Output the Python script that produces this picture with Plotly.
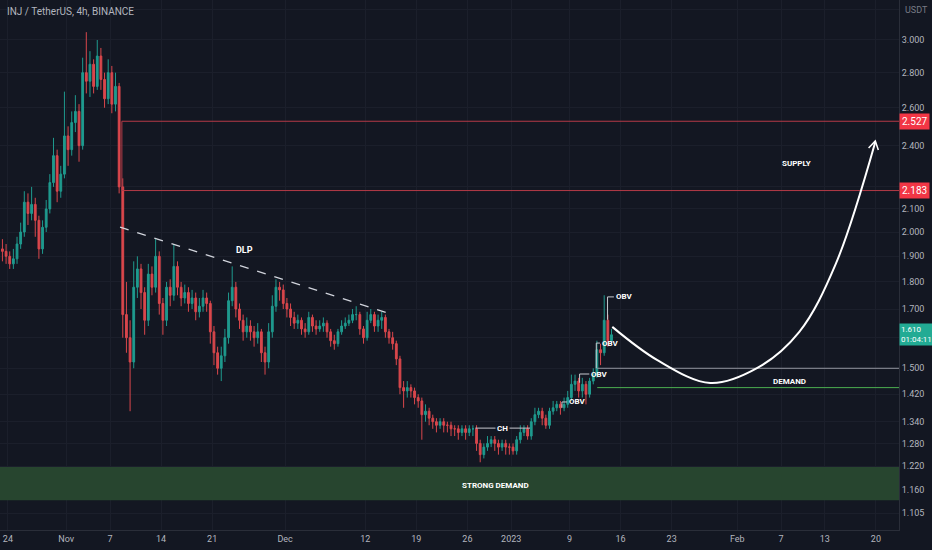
import numpy as np
import pandas as pd
import plotly.graph_objects as go

SYMBOL = "INJ / TetherUS, 4h, BINANCE"
FONT = "Liberation Sans Narrow, Roboto, sans-serif"

# 12h candles, first one starts 23 Oct 2022
FIRST_OPEN = 1.93
CLOSE = [
    1.92, 1.90, 1.87, 1.89, 1.95, 2.00, 2.13, 2.08, 2.12, 2.05,
    1.93, 2.02, 2.10, 2.22, 2.35, 2.18, 2.26, 2.45, 2.38, 2.52,
    2.58, 2.40, 2.80, 2.75, 2.85, 2.72, 2.90, 2.76, 2.65, 2.80,
    2.62, 2.72, 2.20, 1.68, 1.60, 1.52, 1.78, 1.85, 1.76, 1.66,
    1.83, 1.78, 1.90, 1.72, 1.66, 1.78, 1.75, 1.86, 1.78, 1.74,
    1.76, 1.72, 1.74, 1.69, 1.71, 1.74, 1.72, 1.62, 1.55, 1.50,
    1.54, 1.60, 1.73, 1.78, 1.70, 1.66, 1.62, 1.64, 1.62, 1.60,
    1.62, 1.55, 1.52, 1.62, 1.71, 1.78, 1.77, 1.72, 1.70, 1.67,
    1.65, 1.66, 1.63, 1.62, 1.67, 1.64, 1.63, 1.64, 1.65, 1.62,
    1.59, 1.58, 1.62, 1.64, 1.65, 1.66, 1.68, 1.68, 1.63, 1.60,
    1.66, 1.68, 1.64, 1.66, 1.67, 1.62, 1.60, 1.58, 1.53, 1.44,
    1.43, 1.44, 1.43, 1.41, 1.40, 1.36, 1.37, 1.35, 1.34, 1.33,
    1.34, 1.33, 1.33, 1.32, 1.32, 1.31, 1.32, 1.31, 1.32, 1.32,
    1.28, 1.25, 1.27, 1.28, 1.29, 1.28, 1.27, 1.28, 1.27, 1.27,
    1.26, 1.29, 1.31, 1.32, 1.30, 1.34, 1.36, 1.37, 1.35, 1.33,
    1.37, 1.38, 1.39, 1.38, 1.39, 1.41, 1.45, 1.46, 1.43, 1.45,
    1.42, 1.46, 1.48, 1.56, 1.55, 1.66, 1.59, 1.61,
]
HIGH = [
    1.97, 1.95, 1.92, 1.93, 1.98, 2.04, 2.18, 2.17, 2.20, 2.15,
    2.07, 2.05, 2.14, 2.26, 2.44, 2.38, 2.30, 2.69, 2.50, 2.58,
    2.67, 2.62, 2.89, 3.05, 2.93, 2.88, 3.00, 2.95, 2.80, 2.88,
    2.84, 2.80, 2.74, 2.24, 1.80, 1.66, 1.88, 1.90, 1.87, 1.78,
    1.87, 1.86, 1.97, 1.92, 1.74, 1.80, 1.81, 1.95, 1.88, 1.80,
    1.79, 1.78, 1.77, 1.76, 1.74, 1.77, 1.76, 1.73, 1.64, 1.57,
    1.57, 1.63, 1.76, 1.86, 1.80, 1.72, 1.68, 1.67, 1.66, 1.64,
    1.65, 1.63, 1.57, 1.65, 1.75, 1.81, 1.80, 1.79, 1.74, 1.72,
    1.69, 1.68, 1.67, 1.65, 1.69, 1.68, 1.66, 1.66, 1.67, 1.66,
    1.63, 1.61, 1.63, 1.66, 1.67, 1.68, 1.70, 1.71, 1.69, 1.64,
    1.69, 1.70, 1.69, 1.68, 1.69, 1.68, 1.63, 1.62, 1.59, 1.54,
    1.46, 1.46, 1.45, 1.44, 1.42, 1.41, 1.39, 1.38, 1.36, 1.35,
    1.35, 1.35, 1.34, 1.34, 1.33, 1.33, 1.33, 1.33, 1.33, 1.33,
    1.33, 1.29, 1.28, 1.30, 1.30, 1.30, 1.29, 1.29, 1.29, 1.28,
    1.28, 1.30, 1.33, 1.33, 1.33, 1.35, 1.38, 1.38, 1.38, 1.36,
    1.38, 1.40, 1.40, 1.40, 1.41, 1.43, 1.48, 1.48, 1.47, 1.47,
    1.46, 1.47, 1.50, 1.59, 1.58, 1.75, 1.68, 1.63,
]
LOW = [
    1.88, 1.87, 1.85, 1.85, 1.87, 1.93, 1.98, 2.03, 2.05, 1.98,
    1.89, 1.91, 2.00, 2.08, 2.20, 2.13, 2.15, 2.24, 2.30, 2.35,
    2.47, 2.32, 2.38, 2.68, 2.66, 2.68, 2.70, 2.70, 2.60, 2.62,
    2.57, 2.58, 2.17, 1.60, 1.55, 1.37, 1.50, 1.74, 1.70, 1.61,
    1.64, 1.75, 1.76, 1.68, 1.61, 1.64, 1.71, 1.73, 1.75, 1.71,
    1.72, 1.69, 1.70, 1.66, 1.67, 1.69, 1.69, 1.58, 1.51, 1.48,
    1.46, 1.52, 1.58, 1.71, 1.67, 1.63, 1.59, 1.60, 1.59, 1.57,
    1.58, 1.52, 1.48, 1.50, 1.60, 1.69, 1.73, 1.70, 1.67, 1.64,
    1.63, 1.63, 1.61, 1.60, 1.61, 1.62, 1.61, 1.62, 1.62, 1.60,
    1.57, 1.56, 1.57, 1.61, 1.63, 1.64, 1.65, 1.66, 1.61, 1.58,
    1.59, 1.65, 1.62, 1.62, 1.63, 1.60, 1.58, 1.56, 1.51, 1.42,
    1.38, 1.41, 1.41, 1.39, 1.38, 1.29, 1.34, 1.33, 1.32, 1.31,
    1.32, 1.31, 1.31, 1.30, 1.30, 1.29, 1.30, 1.29, 1.30, 1.30,
    1.26, 1.23, 1.24, 1.26, 1.27, 1.26, 1.25, 1.26, 1.25, 1.25,
    1.25, 1.25, 1.28, 1.30, 1.29, 1.29, 1.33, 1.35, 1.33, 1.32,
    1.32, 1.36, 1.37, 1.36, 1.37, 1.38, 1.40, 1.43, 1.41, 1.41,
    1.39, 1.41, 1.45, 1.47, 1.51, 1.54, 1.57, 1.58,
]

# levels and drawings
SUPPLY_START = "2022-11-08 15:00"
SUPPLY_LEVELS = [2.527, 2.183]
DEMAND_START = "2023-01-12 19:00"
DEMAND_LEVELS = [1.50, 1.44]
STRONG_DEMAND = [1.135, 1.218]
LAST_PRICE = 1.610
COUNTDOWN = "01:04:11"

DLP_X = ["2022-11-08 09:00", "2022-12-15 00:00"]
DLP_Y = [2.021, 1.686]

CH_X = ["2022-12-27 02:00", "2023-01-03 14:00"]
CH_Y = [1.322, 1.322]

OBV_MARKS = [
    # (line x, line y, label x, label y)
    (["2023-01-07 23:00", "2023-01-07 23:00", "2023-01-08 16:00"], [1.38, 1.397, 1.397],
     "2023-01-08 16:00", 1.397),
    (["2023-01-10 09:00", "2023-01-10 09:00", "2023-01-11 17:00"], [1.455, 1.482, 1.482],
     "2023-01-11 17:00", 1.482),
    (["2023-01-12 16:00", "2023-01-12 16:00", "2023-01-13 04:00"], [1.50, 1.582, 1.582],
     "2023-01-13 04:00", 1.582),
    (["2023-01-14 05:00", "2023-01-14 05:00", "2023-01-15 02:00"], [1.662, 1.744, 1.744],
     "2023-01-15 02:00", 1.744),
]

PATH_X = ["2023-01-14 20:40", "2023-01-21 01:00", "2023-01-28 07:00",
          "2023-02-03 18:00", "2023-02-09 12:00", "2023-02-14 12:00",
          "2023-02-19 22:00"]
PATH_Y = [1.637, 1.526, 1.454, 1.501, 1.62, 1.87, 2.419]
ARROW_X = ["2023-02-19 00:00", "2023-02-19 22:00", "2023-02-20 08:00"]
ARROW_Y = [2.388, 2.424, 2.378]

# 2.2 and 1.6 sit under the price labels, so only their grid lines show
Y_TICKS = [3.2, 3.0, 2.8, 2.6, 2.4, 2.2, 2.1, 2.0, 1.9, 1.8, 1.7, 1.6, 1.5,
           1.42, 1.34, 1.28, 1.22, 1.16, 1.105]
Y_TEXT = ["", "3.000", "2.800", "2.600", "2.400", "", "2.100", "2.000", "1.900",
          "1.800", "1.700", "", "1.500", "1.420", "1.340", "1.280", "1.220",
          "1.160", "1.105"]
X_TICKS = ["2022-10-24", "2022-11-01", "2022-11-07", "2022-11-14", "2022-11-21",
           "2022-12-01", "2022-12-12", "2022-12-19", "2022-12-26", "2023-01-01",
           "2023-01-09", "2023-01-16", "2023-01-23", "2023-02-01", "2023-02-07",
           "2023-02-13", "2023-02-20"]
X_TEXT = ["24", "Nov", "7", "14", "21", "Dec", "12", "19", "26", "2023",
          "9", "16", "23", "Feb", "7", "13", "20"]

X_RANGE = ["2022-10-22 22:00", "2023-02-23 04:00"]
Y_RANGE = [1.0661, 3.2643]

BG = "#131722"
GRID = "#1b1f2b"
TEXT = "#b2b5be"
UP = "#1f9a8e"
DOWN = "#d9474c"
RED_LINE = "#b43a47"


def white_line(fig, x, y, dash=None, width=1, color="#d1d4dc"):
    fig.add_trace(go.Scatter(x=x, y=y, mode="lines", hoverinfo="skip",
                             line=dict(color=color, width=width, dash=dash)))


def label(fig, x, y, text, xanchor="center", size=9, bg=None):
    fig.add_annotation(x=x, y=np.log10(y), text=f"<b>{text}</b>", showarrow=False,
                       xanchor=xanchor, yanchor="middle", bgcolor=bg, borderpad=1,
                       font=dict(family=FONT, size=size, color="#ffffff"))


times = pd.date_range("2022-10-23 06:00", periods=len(CLOSE), freq="12h")
opens = [FIRST_OPEN] + CLOSE[:-1]

fig = go.Figure()

# strong demand zone
fig.add_trace(go.Scatter(
    x=[X_RANGE[0], X_RANGE[1], X_RANGE[1], X_RANGE[0], X_RANGE[0]],
    y=[STRONG_DEMAND[0], STRONG_DEMAND[0], STRONG_DEMAND[1], STRONG_DEMAND[1], STRONG_DEMAND[0]],
    fill="toself", fillcolor="#27452f", mode="lines", line=dict(width=0),
    hoverinfo="skip"))

fig.add_trace(go.Candlestick(
    x=times, open=opens, high=HIGH, low=LOW, close=CLOSE,
    increasing=dict(line=dict(color=UP, width=1), fillcolor=UP),
    decreasing=dict(line=dict(color=DOWN, width=1), fillcolor=DOWN),
    whiskerwidth=0, hoverinfo="skip"))

# supply box
fig.add_trace(go.Scatter(
    x=[X_RANGE[1], SUPPLY_START, SUPPLY_START, X_RANGE[1]],
    y=[SUPPLY_LEVELS[0], SUPPLY_LEVELS[0], SUPPLY_LEVELS[1], SUPPLY_LEVELS[1]],
    mode="lines", line=dict(color=RED_LINE, width=1), hoverinfo="skip"))

# demand lines
white_line(fig, [DEMAND_START, X_RANGE[1]], [DEMAND_LEVELS[0]] * 2, color="#9598a1")
white_line(fig, [DEMAND_START, X_RANGE[1]], [DEMAND_LEVELS[1]] * 2, color="#4caf50")

white_line(fig, DLP_X, DLP_Y, dash="dash", width=1.3)
white_line(fig, CH_X, CH_Y, color="#c8cad0")
for lx, ly, tx, ty in OBV_MARKS:
    white_line(fig, lx, ly, color="#c8cad0")
    label(fig, tx, ty, "OBV", xanchor="left", size=8)

white_line(fig, PATH_X, PATH_Y, width=2, color="#ffffff")
fig.data[-1].line.shape = "spline"
fig.data[-1].line.smoothing = 1.0
white_line(fig, ARROW_X, ARROW_Y, width=1.5, color="#ffffff")

label(fig, "2022-11-25 12:00", 1.925, "DLP")
label(fig, "2022-12-30 20:00", CH_Y[0], "CH", size=8, bg=BG)
label(fig, "2023-02-09 02:00", 2.309, "SUPPLY", size=8)
label(fig, "2023-02-08 03:00", 1.460, "DEMAND", size=8)
label(fig, "2022-12-29 19:00", 1.170, "STRONG DEMAND", size=8)

# price labels on the axis
for lvl in SUPPLY_LEVELS:
    fig.add_annotation(xref="paper", x=1.0, xanchor="left", y=np.log10(lvl),
                       text=f"{lvl:.3f}", showarrow=False, bgcolor="#f23645",
                       borderpad=2, font=dict(family=FONT, size=10, color="#ffffff"))
fig.add_annotation(xref="paper", x=1.0, xanchor="left", y=np.log10(LAST_PRICE),
                   text=f"{LAST_PRICE:.3f}<br>{COUNTDOWN}", showarrow=False,
                   bgcolor="#22ab94", borderpad=1, align="left",
                   font=dict(family=FONT, size=8, color="#ffffff"))

fig.add_annotation(xref="paper", yref="paper", x=0.006, y=0.992, xanchor="left",
                   yanchor="top", text=SYMBOL, showarrow=False,
                   font=dict(family=FONT, size=10, color=TEXT))
fig.add_annotation(xref="paper", yref="paper", x=1.004, y=0.995, xanchor="left",
                   yanchor="top", text="USDT", showarrow=False,
                   font=dict(family=FONT, size=9, color="#787b86"))

fig.update_layout(
    width=932, height=550,
    margin=dict(l=0, r=33, t=0, b=20),
    paper_bgcolor=BG, plot_bgcolor=BG,
    showlegend=False,
    font=dict(family=FONT, size=9, color=TEXT),
    xaxis=dict(type="date", range=X_RANGE, rangeslider=dict(visible=False),
               tickvals=X_TICKS, ticktext=X_TEXT, showgrid=True, gridcolor=GRID,
               showline=True, linecolor="#2a2e39", zeroline=False,
               tickfont=dict(size=9, color=TEXT)),
    yaxis=dict(type="log", range=[np.log10(Y_RANGE[0]), np.log10(Y_RANGE[1])],
               side="right", tickvals=Y_TICKS, ticktext=Y_TEXT, showgrid=True,
               gridcolor=GRID, showline=True, linecolor="#2a2e39", zeroline=False,
               tickfont=dict(size=9, color=TEXT)),
)

fig.write_html("out.html", config={"displayModeBar": False},
               post_script="document.body.style.margin='0';")
